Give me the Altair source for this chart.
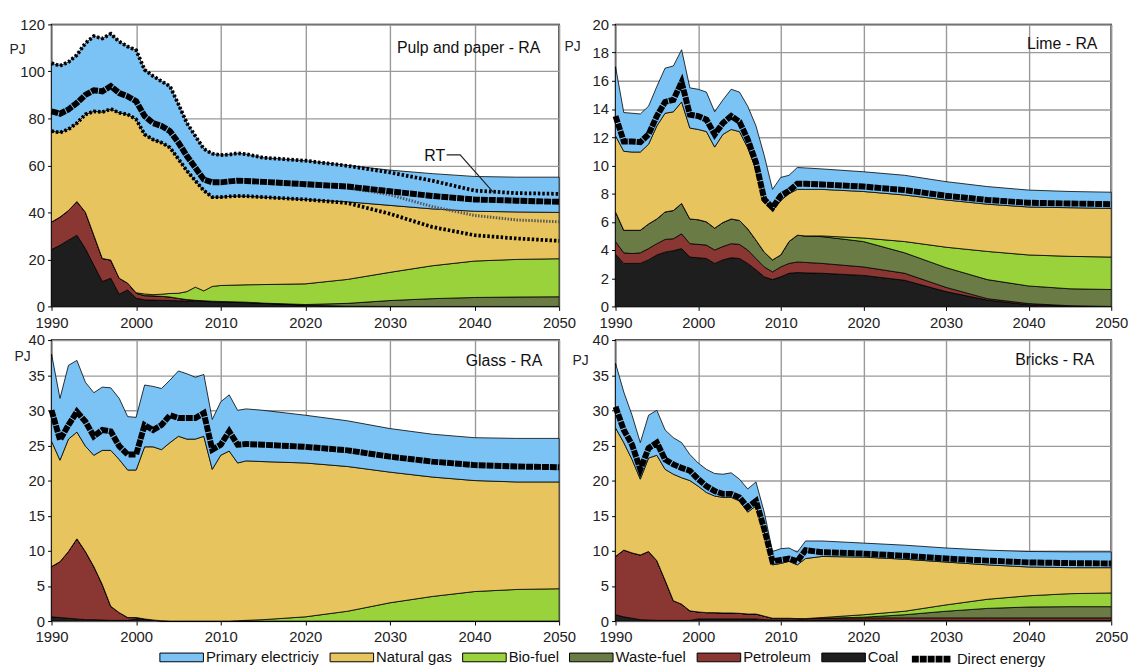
import altair as alt
import pandas as pd

FONT = "Liberation Sans, Arial, sans-serif"

YEARS = list(range(1990, 2014)) + [2015, 2020, 2025, 2030, 2035, 2040, 2045, 2050]
FUELS = ["Coal", "Petroleum", "Waste-fuel", "Bio-fuel", "Natural gas", "Primary electriciy"]
LEGEND_ORDER = ["Primary electriciy", "Natural gas", "Bio-fuel", "Waste-fuel", "Petroleum", "Coal"]
COLORS = ["#7cc3f5", "#e8c45e", "#99d23a", "#6b7b46", "#8a3632", "#1e1e1e"]
X_TICKS = [1990, 2000, 2010, 2020, 2030, 2040, 2050]

# ---------------- Pulp and paper - RA ----------------
pulp_coal = [24.2, 26, 28.2, 30.3, 24.6, 17.6, 10.6, 12, 5.2, 7, 3.5, 2.8, 2.7, 2.6, 2.5, 2.4, 2.3, 2.2, 2.1, 2.0, 1.9, 1.8, 1.7, 1.6,
             1.3, 0.5, 0.1, 0, 0, 0, 0, 0]
pulp_petroleum = [11.7, 12, 12.6, 14.3, 15.5, 12.7, 9.8, 7.7, 6.8, 2.9, 2.1, 1.8, 1.8, 1.7, 1.5, 1.0, 0.6, 0.4, 0.3, 0.2, 0.2, 0.2, 0.2, 0.2,
                  0.1, 0, 0, 0, 0, 0, 0, 0]
pulp_waste = [0, 0, 0, 0, 0, 0, 0, 0, 0, 0, 0, 0, 0, 0, 0, 0, 0, 0, 0, 0, 0, 0, 0, 0,
              0, 0.3, 1.2, 2.5, 3.3, 3.8, 4.0, 4.1]
pulp_bio = [0, 0, 0, 0, 0, 0, 0, 0, 0, 0, 0.2, 0.7, 0.5, 0.9, 1.5, 2.2, 3.4, 5.6, 4.2, 6.3, 6.8, 7.0, 7.2, 7.4,
            7.9, 8.8, 10.2, 12.0, 14.0, 15.5, 16.0, 16.2]
pulp_gas = [38.7, 36, 34.6, 33.4, 41.6, 52.7, 62.3, 64.3, 70.4, 71.8, 73.8, 67.9, 66, 64.5, 62.1, 57.1, 51.4, 45.3, 42.7, 38, 37.6, 37.8, 37.9, 37.7,
            37.2, 35.9, 33, 28.5, 24.2, 21.2, 20.2, 19.7]
pulp_elec = [28.9, 28.4, 28.6, 29, 30.3, 32, 31.3, 32, 30.3, 28.9, 29.4, 27.5, 27, 26.1, 26.1, 23.3, 20.3, 19, 17.7, 18.5, 17.9, 17.8, 18.2, 17.9,
             16.8, 16.5, 15.5, 15, 15, 14.8, 14.8, 15]
pulp_direct = [83, 82, 83.8, 86.6, 90, 92, 91.5, 93.7, 90.8, 89.4, 87.3, 81, 78, 76.8, 74.6, 69.7, 64, 59, 54, 52.8, 52.8, 53.2, 53.5, 53.4,
               53.0, 52, 51, 49, 47, 45.5, 45, 44.5]
# reference scenario (RT) dotted lines
pulp_rt_total = [103.5, 102.4, 104, 107, 112, 115, 114, 116, 112.7, 110.6, 109, 100.7, 98, 95.8, 93.7, 86, 78, 72.5, 67, 65, 64.4, 64.6, 65.2, 64.8,
                 63.3, 62, 59.8, 57, 53.5, 49.3, 48.2, 47.9]
pulp_rt_gas = [74.6, 74, 75.4, 78, 81.7, 83, 82.7, 84, 82.4, 81.7, 79.6, 73.2, 71, 69.7, 67.6, 62.7, 57.7, 53.5, 49.3, 46.5, 46.5, 46.8, 47, 46.9,
               46.5, 45.5, 44.0, 39.4, 33.8, 30.3, 28.9, 27.9]
rt_direct_years = [2025, 2030, 2035, 2040, 2045, 2050]
pulp_rt_direct = [50.5, 47.5, 42.5, 38.7, 36.8, 36]
rt_label_x = [2035.3]
rt_label_y = [64]
rt_arrow_x = [2036.7, 2038.3, 2042.2]
rt_arrow_y = [64.5, 64.5, 48.6]

# ---------------- Lime - RA ----------------
lime_coal = [3.7, 3.05, 3.05, 3.05, 3.3, 3.65, 3.85, 3.95, 4.1, 3.5, 3.45, 3.4, 3.05, 3.3, 3.45, 3.4, 3.05, 2.6, 2.1, 1.9, 2.1, 2.35, 2.4, 2.38,
             2.35, 2.2, 1.85, 1.05, 0.45, 0.12, 0.02, 0]
lime_petroleum = [0.9, 0.75, 0.7, 0.75, 0.8, 0.8, 0.9, 0.85, 1.05, 0.95, 0.95, 0.95, 0.95, 0.95, 1.0, 1.0, 0.95, 0.8, 0.7, 0.55, 0.7, 0.7, 0.75, 0.74,
                  0.7, 0.6, 0.5, 0.3, 0.1, 0.08, 0.03, 0]
lime_waste = [2.1, 1.6, 1.65, 1.6, 1.75, 1.75, 1.95, 2.0, 2.15, 1.75, 1.75, 1.65, 1.55, 1.7, 1.75, 1.7, 1.5, 1.3, 1.05, 0.85, 0.85, 1.55, 1.9, 1.88,
              1.9, 1.8, 1.45, 1.4, 1.35, 1.25, 1.2, 1.2]
lime_bio = [0, 0, 0, 0, 0, 0, 0, 0, 0, 0, 0, 0, 0, 0, 0, 0, 0, 0, 0, 0, 0, 0, 0, 0,
            0.05, 0.25, 0.8, 1.45, 2.0, 2.2, 2.3, 2.3]
lime_gas = [5.4, 5.6, 5.55, 5.55, 5.65, 6.6, 7.0, 7.0, 7.2, 6.45, 6.4, 6.4, 5.75, 6.25, 6.35, 6.3, 5.75, 5.0, 3.75, 3.5, 3.85, 3.4, 3.25, 3.3,
            3.3, 3.3, 3.3, 3.35, 3.35, 3.4, 3.45, 3.45]
lime_elec = [4.9, 2.75, 2.75, 2.7, 2.7, 2.8, 3.2, 3.25, 3.7, 2.85, 2.85, 2.8, 2.5, 2.45, 2.85, 2.8, 2.95, 3.1, 3.1, 1.5, 1.65, 1.3, 1.55, 1.52,
             1.45, 1.4, 1.4, 1.3, 1.25, 1.2, 1.15, 1.15]
lime_direct = [13.5, 11.7, 11.7, 11.65, 12.2, 13.5, 14.5, 14.65, 15.9, 13.6, 13.5, 13.25, 12.2, 13.0, 13.5, 13.1, 11.85, 10.2, 7.6, 7.0, 7.85, 8.2, 8.7, 8.7,
               8.65, 8.5, 8.25, 7.85, 7.55, 7.35, 7.3, 7.25]

# ---------------- Glass - RA ----------------
glass_coal = [0.6, 0.5, 0.4, 0.3, 0.2, 0.2, 0.15, 0.1, 0.1, 0.1, 0.3, 0.2, 0.1, 0, 0, 0, 0, 0, 0, 0, 0, 0, 0, 0,
              0, 0, 0, 0, 0, 0, 0, 0]
glass_petroleum = [7.15, 7.95, 9.5, 11.4, 9.7, 7.55, 5.05, 2.0, 1.1, 0.4, 0.2, 0.1, 0.05, 0.05, 0, 0, 0, 0, 0, 0, 0, 0, 0, 0,
                   0, 0, 0, 0, 0, 0, 0, 0]
glass_waste = [0, 0, 0, 0, 0, 0, 0, 0, 0, 0, 0, 0, 0, 0, 0, 0, 0, 0, 0, 0, 0, 0, 0, 0,
               0, 0, 0, 0, 0, 0, 0, 0]
glass_bio = [0, 0, 0, 0, 0, 0, 0, 0, 0, 0, 0, 0, 0, 0, 0, 0, 0, 0, 0, 0, 0, 0, 0.05, 0.1,
             0.2, 0.6, 1.4, 2.6, 3.5, 4.2, 4.5, 4.6]
glass_gas = [17.85, 14.45, 16.0, 15.2, 15.0, 15.85, 19.1, 22.2, 21.8, 21.0, 21.0, 24.5, 24.65, 24.35, 25.4, 26.3, 25.9, 25.9, 26.3, 21.6, 23.6, 24.2, 22.45, 22.7,
             22.5, 21.9, 20.6, 18.6, 17.0, 15.8, 15.3, 15.2]
glass_elec = [12.4, 8.8, 10.5, 10.2, 9.1, 8.9, 9.0, 8.9, 8.7, 7.6, 7.5, 8.8, 8.6, 8.7, 8.9, 9.3, 9.3, 8.8, 8.8, 7.1, 7.6, 8.0, 7.5, 7.4,
              7.3, 6.8, 6.5, 6.2, 6.1, 6.1, 6.2, 6.2]
glass_direct = [30, 25.8, 27.9, 29.8, 28.4, 26.3, 27.2, 27.0, 24.9, 23.7, 23.7, 27.9, 27.2, 27.9, 29.3, 28.9, 28.9, 28.9, 29.6, 24.4, 25.1, 27.0, 25.1, 25.2,
                25.1, 24.8, 24.3, 23.4, 22.7, 22.2, 22.0, 21.9]

# ---------------- Bricks - RA ----------------
bricks_coal = [0.9, 0.6, 0.4, 0.2, 0.15, 0.1, 0.1, 0.1, 0.1, 0.1, 0.3, 0.3, 0.3, 0.3, 0.3, 0.3, 0.3, 0.3, 0.2, 0.15, 0.15, 0.15, 0.15, 0.15,
               0.15, 0.15, 0.1, 0.1, 0.1, 0.1, 0.1, 0.1]
bricks_petroleum = [8.3, 9.5, 9.3, 9.2, 9.75, 8.5, 5.7, 2.8, 2.3, 1.35, 1.0, 0.9, 0.9, 0.85, 0.85, 0.8, 0.7, 0.7, 0.5, 0.25, 0.25, 0.25, 0.2, 0.2,
                    0.25, 0.3, 0.35, 0.35, 0.35, 0.35, 0.35, 0.35]
bricks_waste = [0, 0, 0, 0, 0, 0, 0, 0, 0, 0, 0, 0, 0, 0, 0, 0, 0, 0, 0, 0, 0, 0, 0, 0,
                0, 0.1, 0.45, 0.95, 1.35, 1.55, 1.6, 1.6]
bricks_bio = [0, 0, 0, 0, 0, 0, 0, 0, 0, 0, 0, 0, 0, 0, 0, 0, 0, 0, 0, 0, 0, 0, 0, 0,
              0.1, 0.35, 0.5, 0.9, 1.3, 1.6, 1.85, 1.95]
bricks_gas = [18.3, 15.3, 13.3, 10.8, 13.3, 15.0, 15.8, 18.0, 18.0, 18.55, 17.9, 17.1, 16.6, 16.45, 16.45, 16.0, 14.5, 15.4, 12.0, 7.6, 7.8, 8.1, 7.65, 8.55,
              8.7, 8.2, 7.4, 6.1, 4.9, 4.1, 3.7, 3.6]
bricks_elec = [9.2, 7.2, 6.3, 5.2, 6.1, 6.4, 5.6, 5.2, 5.0, 3.7, 3.3, 3.3, 3.2, 3.3, 3.5, 3.1, 3.3, 3.4, 2.8, 1.9, 2.1, 1.9, 1.8, 2.5,
               2.2, 2.0, 2.0, 2.0, 2.1, 2.2, 2.25, 2.25]
bricks_direct = [30.5, 27.2, 25.1, 21.6, 24.6, 25.4, 23.0, 22.3, 21.8, 21.4, 20.2, 19.2, 18.5, 18.1, 18.1, 17.6, 16.2, 17.1, 13.1, 8.5, 8.7, 8.9, 8.5, 10.1,
                 9.8, 9.6, 9.3, 8.9, 8.6, 8.35, 8.25, 8.2]

Y_TICKS_PULP = [0, 20, 40, 60, 80, 100, 120]
Y_TICKS_LIME = [0, 2, 4, 6, 8, 10, 12, 14, 16, 18, 20]
Y_TICKS_40 = [0, 5, 10, 15, 20, 25, 30, 35, 40]

fill_scale = alt.Scale(domain=LEGEND_ORDER, range=COLORS)
stroke_scale = alt.Scale(domain=["Direct energy"], range=["black"])


def long_df(series):
    rows = []
    for i, (fuel, vals) in enumerate(zip(FUELS, series)):
        for yr, v in zip(YEARS, vals):
            rows.append({"year": yr, "fuel": fuel, "value": v, "ord": i})
    return pd.DataFrame(rows)


def pulp_extras(xe, ye):
    rt_df = pd.DataFrame({
        "year": YEARS * 2,
        "value": pulp_rt_total + pulp_rt_gas,
        "grp": ["total"] * len(YEARS) + ["gas"] * len(YEARS),
    })
    rt_lines = alt.Chart(rt_df).mark_line(color="black", strokeWidth=3.8, strokeDash=[2.5, 2]).encode(
        x=xe, y=ye, detail="grp:N")
    rt_mid = alt.Chart(pd.DataFrame({"year": rt_direct_years, "value": pulp_rt_direct})).mark_line(
        color="#555", strokeWidth=3, strokeDash=[1.5, 1.5]).encode(x=xe, y=ye)
    rt_arrow = alt.Chart(pd.DataFrame({"year": rt_arrow_x, "value": rt_arrow_y})).mark_line(
        color="#222", strokeWidth=1.2).encode(x=xe, y=ye)
    rt_text = alt.Chart(pd.DataFrame({"year": rt_label_x, "value": rt_label_y, "t": ["RT"]})).mark_text(
        fontSize=16, color="#111", baseline="middle", align="center").encode(x=xe, y=ye, text="t:N")
    return [rt_mid, rt_lines, rt_arrow, rt_text]


def panel(title, series, direct, ymax, yticks, width, height, pj_x, pj_y, title_dx, title_dy, extra_fn=None):
    xs = alt.Scale(domain=[1990, 2050], nice=False, zero=False)
    ys = alt.Scale(domain=[0, ymax], nice=False, zero=True)
    xaxis = alt.Axis(values=X_TICKS, format="d", title=None, grid=True, labelFlush=False,
                     labelOverlap=False, labelFontSize=15, labelPadding=5, tickSize=4)
    yaxis = alt.Axis(values=yticks, title="PJ", grid=True, labelFlush=False, labelOverlap=False,
                     labelFontSize=15, labelPadding=3, tickSize=4,
                     titleAngle=0, titleX=pj_x, titleY=pj_y, titleAlign="left",
                     titleBaseline="middle", titleFontSize=14, titleFontWeight="normal")
    xe = alt.X("year:Q", scale=xs, axis=xaxis)
    ye = alt.Y("value:Q", scale=ys, axis=yaxis)
    area = alt.Chart(long_df(series)).mark_area(
        stroke="black", strokeWidth=0.8, interpolate="linear"
    ).encode(
        x=xe,
        y=alt.Y("value:Q", stack="zero", scale=ys, axis=yaxis),
        fill=alt.Fill("fuel:N", scale=fill_scale, legend=alt.Legend(
            orient="none", legendX=109, legendY=617, direction="horizontal", columns=6,
            title=None, symbolType="M-1,-0.2H1V0.2H-1Z", symbolSize=1936,
            symbolStrokeColor="black", symbolStrokeWidth=1, symbolOpacity=1,
            labelFontSize=15, labelOffset=2, columnPadding=8)),
        order=alt.Order("ord:Q", sort="ascending"),
    )
    layers = [area]
    if extra_fn is not None:
        layers.extend(extra_fn(xe, ye))
    ddf = pd.DataFrame({"year": YEARS, "value": direct, "series": "Direct energy"})
    line = alt.Chart(ddf).mark_line(strokeWidth=6, strokeDash=[7, 1], strokeCap="butt").encode(
        x=xe, y=ye,
        stroke=alt.Stroke("series:N", scale=stroke_scale, legend=alt.Legend(
            orient="none", legendX=866, legendY=618, title=None, symbolType="stroke",
            symbolSize=1600, symbolStrokeWidth=7, symbolDash=[7, 1], labelFontSize=15, labelOffset=2)),
    )
    layers.append(line)
    txt = alt.Chart(pd.DataFrame({"t": [title]})).mark_text(
        align="right", baseline="middle", fontSize=16, color="#111"
    ).encode(text="t:N", x=alt.value(width - title_dx), y=alt.value(title_dy))
    layers.append(txt)
    return alt.layer(*layers).properties(width=width, height=height)


p1 = panel("Pulp and paper - RA",
           [pulp_coal, pulp_petroleum, pulp_waste, pulp_bio, pulp_gas, pulp_elec], pulp_direct,
           120, Y_TICKS_PULP, 513, 285, -43, 25, 19, 24, extra_fn=pulp_extras)
p2 = panel("Lime - RA",
           [lime_coal, lime_petroleum, lime_waste, lime_bio, lime_gas, lime_elec], lime_direct,
           20, Y_TICKS_LIME, 501, 285, -52, 22, 14, 20)
p3 = panel("Glass - RA",
           [glass_coal, glass_petroleum, glass_waste, glass_bio, glass_gas, glass_elec], glass_direct,
           40, Y_TICKS_40, 513, 284, -38, 17, 17, 21)
p4 = panel("Bricks - RA",
           [bricks_coal, bricks_petroleum, bricks_waste, bricks_bio, bricks_gas, bricks_elec], bricks_direct,
           40, Y_TICKS_40, 501, 284, -44, 21, 17, 20)

chart = alt.concat(p1, p2, p3, p4, columns=2, spacing={"row": 34, "column": 57}, bounds="flush").properties(
    padding={"left": 0, "top": 5, "right": 5, "bottom": 5}
).configure(font=FONT).configure_view(
    stroke="black", strokeWidth=1.5
).configure_axis(
    gridColor="#9a9a9a", gridWidth=1.4, domain=False, tickColor="black",
    labelColor="#222", titleColor="#222", labelFont=FONT, titleFont=FONT
).configure_legend(labelFont=FONT, labelColor="#111").configure_text(font=FONT)

chart.save("out.html", embed_options={"renderer": "svg", "actions": False})
